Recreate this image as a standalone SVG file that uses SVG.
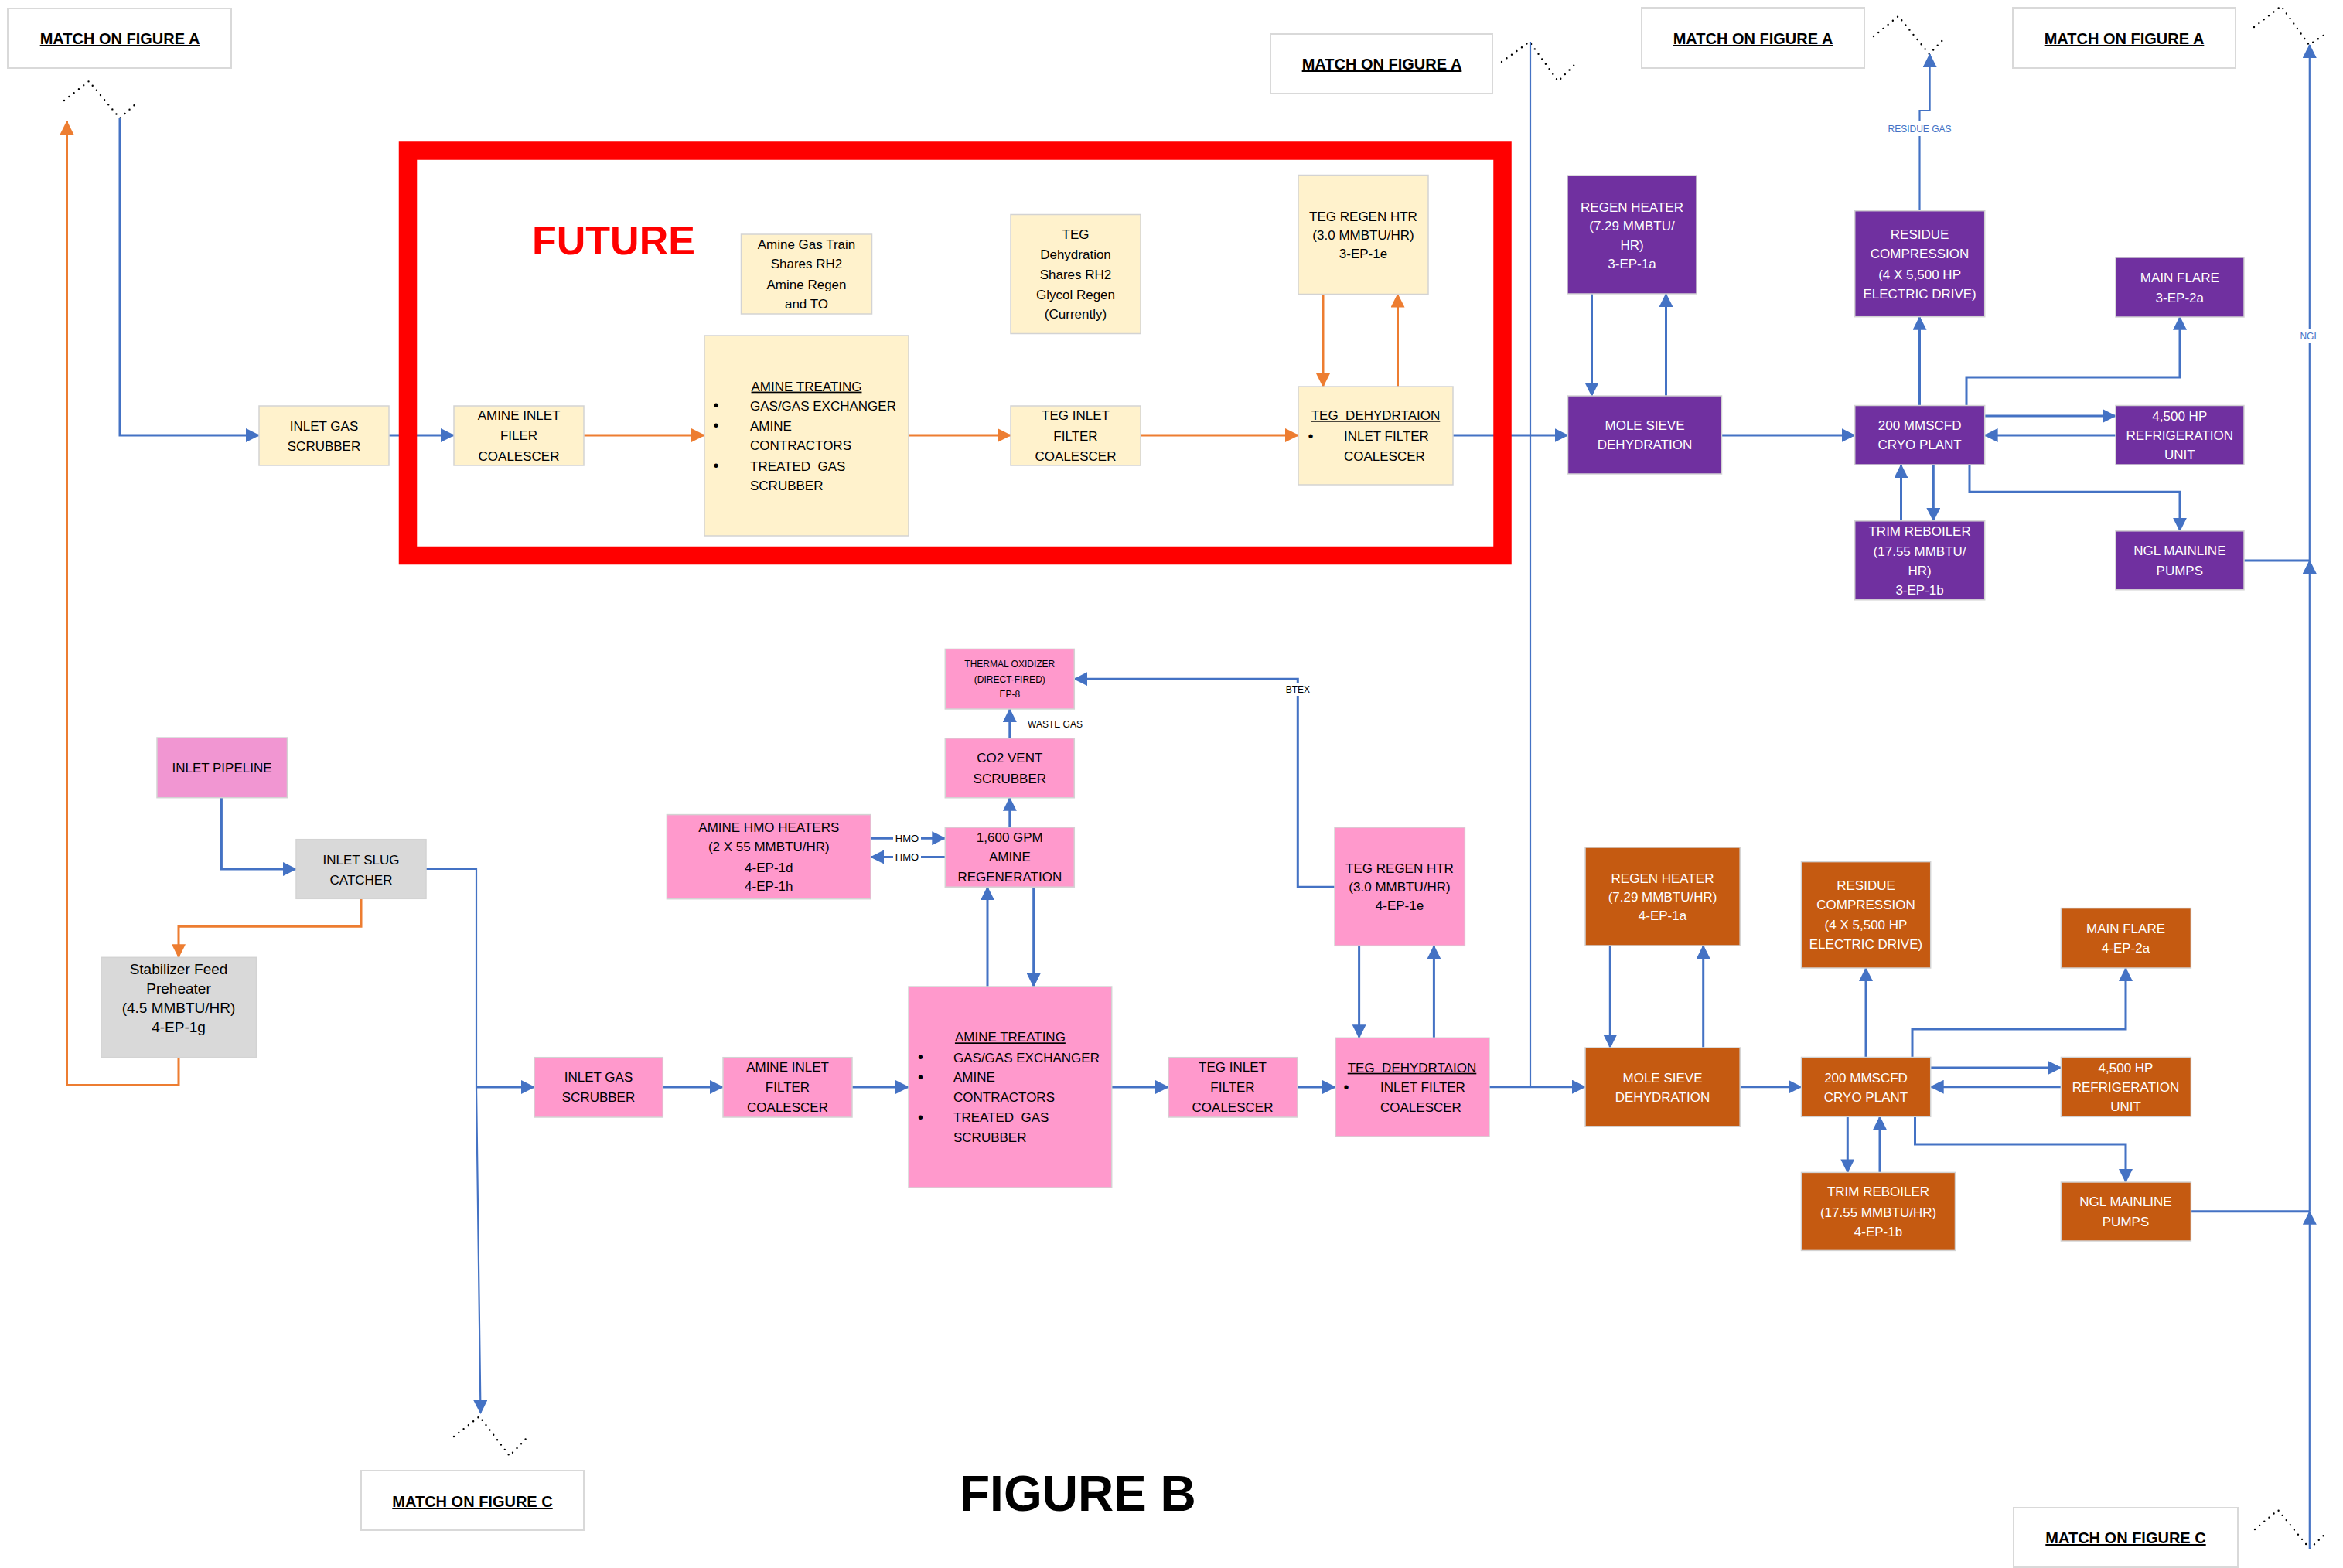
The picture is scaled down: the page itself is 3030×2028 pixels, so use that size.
<svg xmlns="http://www.w3.org/2000/svg" width="3030" height="2028" viewBox="0 0 3030 2028">
<style>
  .bx{stroke:#D3D3D3;stroke-width:1.5}
  .y{fill:#FFF2CC}
  .p{fill:#FF99CC}
  .pl{fill:#F196D2}
  .g{fill:#D9D9D9}
  .v{fill:#7030A0}
  .o{fill:#C55A11}
  .w{fill:#FFFFFF;stroke:#D9D9D9;stroke-width:2}
  text{font-family:"Liberation Sans",Arial,sans-serif;font-size:17px;fill:#000;text-anchor:middle}
  .wt{fill:#FFFFFF}
  .st{text-anchor:start}
  .u{text-decoration:underline}
  .pre{white-space:pre}
  .bul{font-size:20px}
  .sm{font-size:12px}
  .lb{font-size:13px}
  .bl{fill:#4472C4}
  .match{font-weight:bold;font-size:20px;text-decoration:underline}
  .c{fill:none;stroke:#4472C4;stroke-width:3}
  .ct{fill:none;stroke:#4472C4;stroke-width:2.2}
  .co{fill:none;stroke:#ED7D31;stroke-width:3}
  .dots{fill:none;stroke:#000;stroke-width:2.4;stroke-linecap:round;stroke-dasharray:0 8}
</style>
<defs>
  <marker id="ab" markerUnits="userSpaceOnUse" viewBox="0 0 18 18" markerWidth="18" markerHeight="18" refX="17" refY="9" orient="auto">
    <path d="M0,0 L18,9 L0,18 z" fill="#4472C4"/>
  </marker>
  <marker id="ao" markerUnits="userSpaceOnUse" viewBox="0 0 18 18" markerWidth="18" markerHeight="18" refX="17" refY="9" orient="auto">
    <path d="M0,0 L18,9 L0,18 z" fill="#ED7D31"/>
  </marker>
</defs>
<rect width="3030" height="2028" fill="#FFFFFF"/>

<!-- off-page match references -->
<g id="match-a-1"><rect class="w" x="10" y="11" width="289" height="77"/><text class="match" x="155" y="57">MATCH ON FIGURE A</text></g>
<g id="match-a-2"><rect class="w" x="1643" y="44" width="287" height="77"/><text class="match" x="1787" y="90">MATCH ON FIGURE A</text></g>
<g id="match-a-3"><rect class="w" x="2123" y="10" width="288" height="78"/><text class="match" x="2267" y="57">MATCH ON FIGURE A</text></g>
<g id="match-a-4"><rect class="w" x="2603" y="10" width="288" height="78"/><text class="match" x="2747" y="57">MATCH ON FIGURE A</text></g>
<g id="match-c-1"><rect class="w" x="467" y="1902" width="288" height="77"/><text class="match" x="611" y="1949">MATCH ON FIGURE C</text></g>
<g id="match-c-2"><rect class="w" x="2604" y="1950" width="290" height="77"/><text class="match" x="2749" y="1996">MATCH ON FIGURE C</text></g>

<!-- break marks -->
<g id="breaks">
  <path class="dots" d="M83,130 L115,105 L155,153 L177,133"/>
  <path class="dots" d="M1942,80 L1978,54 L2015,105 L2038,82"/>
  <path class="dots" d="M2423,47 L2455,21 L2495,70 L2516,48"/>
  <path class="dots" d="M2915,35 L2950,8 L2986,58 L3009,43"/>
  <path class="dots" d="M587,1858 L620,1832 L659,1883 L681,1860"/>
  <path class="dots" d="M2916,1978 L2946,1953 L2987,2003 L3010,1981"/>
</g>

<!-- connectors -->
<g id="connectors">
  <!-- upper train -->
  <path class="c" d="M155,153 V563 H335" marker-end="url(#ab)"/>
  <path class="co" d="M231,1368 V1403.5 H86.5 V157" marker-end="url(#ao)"/>
  <path class="c" d="M503,563 H587" marker-end="url(#ab)"/>
  <path class="co" d="M755,563 H911" marker-end="url(#ao)"/>
  <path class="co" d="M1175,563 H1307" marker-end="url(#ao)"/>
  <path class="co" d="M1475,563 H1679" marker-end="url(#ao)"/>
  <path class="co" d="M1711,380.5 V500" marker-end="url(#ao)"/>
  <path class="co" d="M1807.5,500 V380.5" marker-end="url(#ao)"/>
  <path class="c" d="M1879,563 H2027.5" marker-end="url(#ab)"/>
  <path class="ct" d="M1979,54 V1405.7"/>
  <path class="c" d="M2058.5,380 V512" marker-end="url(#ab)"/>
  <path class="c" d="M2154.5,512 V380" marker-end="url(#ab)"/>
  <path class="c" d="M2226.5,563 H2398.7" marker-end="url(#ab)"/>
  <path class="c" d="M2482.5,524.5 V409.7" marker-end="url(#ab)"/>
  <path class="ct" d="M2482.5,272.7 V143 H2495.6 V70" marker-end="url(#ab)"/>
  <path class="c" d="M2543,524.5 V488 H2819 V409.7" marker-end="url(#ab)"/>
  <path class="c" d="M2566.6,538 H2736" marker-end="url(#ab)"/>
  <path class="c" d="M2736,563 H2566.6" marker-end="url(#ab)"/>
  <path class="c" d="M2458.5,673.8 V601" marker-end="url(#ab)"/>
  <path class="c" d="M2500.3,601 V673.8" marker-end="url(#ab)"/>
  <path class="c" d="M2547,601 V636.3 H2819 V686.8" marker-end="url(#ab)"/>
  <path class="c" d="M2901.7,725 H2986.8"/>
  <path class="ct" d="M2986.8,2003 V1566.8" marker-end="url(#ab)"/>
  <path class="ct" d="M2986.8,1566.8 V725" marker-end="url(#ab)"/>
  <path class="ct" d="M2986.8,725 V58" marker-end="url(#ab)"/>
  <!-- lower train -->
  <path class="c" d="M286.4,1031.7 V1124 H383" marker-end="url(#ab)"/>
  <path class="co" d="M467,1162.3 V1198.3 H231 V1238.3" marker-end="url(#ao)"/>
  <path class="ct" d="M551,1124 H616 V1406 L621.5,1828" marker-end="url(#ab)"/>
  <path class="c" d="M616,1406 H691" marker-end="url(#ab)"/>
  <path class="c" d="M857.3,1406 H935" marker-end="url(#ab)"/>
  <path class="c" d="M1102,1406 H1175" marker-end="url(#ab)"/>
  <path class="c" d="M1437.7,1406 H1511" marker-end="url(#ab)"/>
  <path class="c" d="M1677.9,1406 H1727" marker-end="url(#ab)"/>
  <path class="c" d="M1926,1405.7 H2050" marker-end="url(#ab)"/>
  <path class="c" d="M1277,1276 V1147.2" marker-end="url(#ab)"/>
  <path class="c" d="M1336.7,1147.2 V1276" marker-end="url(#ab)"/>
  <path class="c" d="M1305.8,1070 V1031.8" marker-end="url(#ab)"/>
  <path class="c" d="M1305.8,954.8 V917" marker-end="url(#ab)"/>
  <path class="c" d="M1126.2,1084.2 H1222.3" marker-end="url(#ab)"/>
  <path class="c" d="M1222.3,1108.4 H1126.2" marker-end="url(#ab)"/>
  <path class="c" d="M1726,1147.2 H1678.3 V878.2 H1389.3" marker-end="url(#ab)"/>
  <path class="c" d="M1757.6,1223.3 V1342.3" marker-end="url(#ab)"/>
  <path class="c" d="M1854.4,1342.3 V1223.3" marker-end="url(#ab)"/>
  <path class="c" d="M2082.3,1223 V1355" marker-end="url(#ab)"/>
  <path class="c" d="M2202.7,1355 V1223" marker-end="url(#ab)"/>
  <path class="c" d="M2250.2,1405.7 H2329.5" marker-end="url(#ab)"/>
  <path class="c" d="M2413,1367.5 V1252" marker-end="url(#ab)"/>
  <path class="c" d="M2473,1367.5 V1331 H2749 V1252" marker-end="url(#ab)"/>
  <path class="c" d="M2496.7,1381 H2665.4" marker-end="url(#ab)"/>
  <path class="c" d="M2665.4,1405.7 H2496.7" marker-end="url(#ab)"/>
  <path class="c" d="M2389.3,1444.3 V1516.4" marker-end="url(#ab)"/>
  <path class="c" d="M2431,1516.4 V1444.3" marker-end="url(#ab)"/>
  <path class="c" d="M2476.5,1444.3 V1480 H2749 V1529" marker-end="url(#ab)"/>
  <path class="c" d="M2833.3,1566.8 H2986.8"/>
  <!-- stream labels -->
  <rect x="2438" y="157" width="88" height="19" fill="#FFFFFF"/>
  <text class="sm bl" x="2482.5" y="171">RESIDUE GAS</text>
  <rect x="2972" y="425" width="30" height="18" fill="#FFFFFF"/>
  <text class="sm bl" x="2986.8" y="438.5">NGL</text>
  <rect x="1155" y="1077" width="36" height="15" fill="#FFFFFF"/>
  <text class="lb" x="1173" y="1088.8">HMO</text>
  <rect x="1155" y="1101" width="36" height="15" fill="#FFFFFF"/>
  <text class="lb" x="1173" y="1113">HMO</text>
  <rect x="1659" y="884" width="39" height="16" fill="#FFFFFF"/>
  <text class="sm" x="1678.3" y="896">BTEX</text>
  <text class="sm st" x="1329" y="940.5">WASTE GAS</text>
</g>

<!-- future upper train (yellow) -->
<g id="inlet-gas-scrubber-a"><rect class="bx y" x="335" y="525" width="168" height="77"/><text x="419"><tspan x="419" y="556.5">INLET GAS</tspan><tspan x="419" y="582.5">SCRUBBER</tspan></text></g>
<g id="amine-inlet-filer-a"><rect class="bx y" x="587" y="525" width="168" height="77"/><text x="671"><tspan x="671" y="543">AMINE INLET</tspan><tspan x="671" y="569">FILER</tspan><tspan x="671" y="595.5">COALESCER</tspan></text></g>
<g id="amine-treating-a"><rect class="bx y" x="911" y="434" width="264" height="259"/>
  <text class="u" x="1043" y="505.6">AMINE TREATING</text>
  <text class="bul" x="926" y="531.3">•</text><text class="bul" x="926" y="557.4">•</text><text class="bul" x="926" y="609">•</text>
  <text class="st pre" x="970"><tspan x="970" y="530.6">GAS/GAS EXCHANGER</tspan><tspan x="970" y="556.7">AMINE</tspan><tspan x="970" y="582.4">CONTRACTORS</tspan><tspan x="970" y="608.5">TREATED  GAS</tspan><tspan x="970" y="634">SCRUBBER</tspan></text>
</g>
<g id="amine-gas-train-note"><rect class="bx y" x="958.5" y="303" width="169" height="103"/><text x="1043"><tspan x="1043" y="321.7">Amine Gas Train</tspan><tspan x="1043" y="347.4">Shares RH2</tspan><tspan x="1043" y="373.5">Amine Regen</tspan><tspan x="1043" y="399.2">and TO</tspan></text></g>
<g id="teg-dehydration-note"><rect class="bx y" x="1307" y="277.5" width="168" height="154"/><text x="1391"><tspan x="1391" y="309.2">TEG</tspan><tspan x="1391" y="335.3">Dehydration</tspan><tspan x="1391" y="361">Shares RH2</tspan><tspan x="1391" y="386.7">Glycol Regen</tspan><tspan x="1391" y="411.7">(Currently)</tspan></text></g>
<g id="teg-regen-htr-a"><rect class="bx y" x="1679" y="226.5" width="168" height="154"/><text x="1763"><tspan x="1763" y="286">TEG REGEN HTR</tspan><tspan x="1763" y="310">(3.0 MMBTU/HR)</tspan><tspan x="1763" y="334">3-EP-1e</tspan></text></g>
<g id="teg-inlet-filter-a"><rect class="bx y" x="1307" y="525" width="168" height="77"/><text x="1391"><tspan x="1391" y="543">TEG INLET</tspan><tspan x="1391" y="570">FILTER</tspan><tspan x="1391" y="595.6">COALESCER</tspan></text></g>
<g id="teg-dehydration-a"><rect class="bx y" x="1679" y="500" width="200" height="127"/>
  <text class="u pre" x="1779" y="543">TEG  DEHYDRTAION</text>
  <text class="bul" x="1695" y="570.5">•</text>
  <text class="st" x="1738"><tspan x="1738" y="570">INLET FILTER</tspan><tspan x="1738" y="595.6">COALESCER</tspan></text>
</g>

<!-- upper cryo train (purple) -->
<g id="regen-heater-a"><rect class="bx v" x="2027" y="227" width="167" height="153"/><text class="wt" x="2110.5"><tspan x="2110.5" y="273.7">REGEN HEATER</tspan><tspan x="2110.5" y="297.8">(7.29 MMBTU/</tspan><tspan x="2110.5" y="322.7">HR)</tspan><tspan x="2110.5" y="346.8">3-EP-1a</tspan></text></g>
<g id="mole-sieve-a"><rect class="bx v" x="2027.5" y="512" width="199" height="101"/><text class="wt" x="2127"><tspan x="2127" y="556.2">MOLE SIEVE</tspan><tspan x="2127" y="581">DEHYDRATION</tspan></text></g>
<g id="residue-compression-a"><rect class="bx v" x="2398.7" y="272.7" width="168" height="137"/><text class="wt" x="2482.6"><tspan x="2482.6" y="309.3">RESIDUE</tspan><tspan x="2482.6" y="334.2">COMPRESSION</tspan><tspan x="2482.6" y="361">(4 X 5,500 HP</tspan><tspan x="2482.6" y="386">ELECTRIC DRIVE)</tspan></text></g>
<g id="cryo-plant-a"><rect class="bx v" x="2398.7" y="524.5" width="168" height="76.5"/><text class="wt" x="2482.6"><tspan x="2482.6" y="556.2">200 MMSCFD</tspan><tspan x="2482.6" y="581">CRYO PLANT</tspan></text></g>
<g id="main-flare-a"><rect class="bx v" x="2736" y="333" width="166" height="77"/><text class="wt" x="2818.8"><tspan x="2818.8" y="364.8">MAIN FLARE</tspan><tspan x="2818.8" y="390.5">3-EP-2a</tspan></text></g>
<g id="refrigeration-a"><rect class="bx v" x="2736" y="524.5" width="166" height="76.5"/><text class="wt" x="2818.8"><tspan x="2818.8" y="543.5">4,500 HP</tspan><tspan x="2818.8" y="568.8">REFRIGERATION</tspan><tspan x="2818.8" y="594.4">UNIT</tspan></text></g>
<g id="trim-reboiler-a"><rect class="bx v" x="2398.7" y="673.8" width="168" height="102"/><text class="wt" x="2482.6"><tspan x="2482.6" y="692.8">TRIM REBOILER</tspan><tspan x="2482.6" y="718.8">(17.55 MMBTU/</tspan><tspan x="2482.6" y="743.7">HR)</tspan><tspan x="2482.6" y="768.6">3-EP-1b</tspan></text></g>
<g id="ngl-pumps-a"><rect class="bx v" x="2736" y="686.8" width="166" height="76"/><text class="wt" x="2818.8"><tspan x="2818.8" y="718">NGL MAINLINE</tspan><tspan x="2818.8" y="743.7">PUMPS</tspan></text></g>

<!-- inlet facilities -->
<g id="inlet-pipeline"><rect class="bx pl" x="203" y="954" width="168.5" height="77.7"/><text x="287" y="999">INLET PIPELINE</text></g>
<g id="inlet-slug-catcher"><rect class="bx g" x="383" y="1085.7" width="168" height="76.6"/><text x="467"><tspan x="467" y="1117.7">INLET SLUG</tspan><tspan x="467" y="1143.7">CATCHER</tspan></text></g>
<g id="stabilizer-feed-preheater"><rect class="bx g" x="131" y="1238.3" width="200.4" height="129.4"/><text x="231" style="font-size:19px"><tspan x="231" y="1259.7">Stabilizer Feed</tspan><tspan x="231" y="1284.7">Preheater</tspan><tspan x="231" y="1310">(4.5 MMBTU/HR)</tspan><tspan x="231" y="1335">4-EP-1g</tspan></text></g>

<!-- existing lower train (pink) -->
<g id="inlet-gas-scrubber-b"><rect class="bx p" x="691" y="1367.7" width="166.3" height="77.3"/><text x="774"><tspan x="774" y="1399.3">INLET GAS</tspan><tspan x="774" y="1425.3">SCRUBBER</tspan></text></g>
<g id="amine-inlet-filter-b"><rect class="bx p" x="935" y="1367.7" width="167" height="77.3"/><text x="1018.5"><tspan x="1018.5" y="1386">AMINE INLET</tspan><tspan x="1018.5" y="1412">FILTER</tspan><tspan x="1018.5" y="1438.3">COALESCER</tspan></text></g>
<g id="amine-treating-b"><rect class="bx p" x="1175" y="1276" width="262.7" height="260"/>
  <text class="u" x="1306.4" y="1347.3">AMINE TREATING</text>
  <text class="bul" x="1190.4" y="1374.2">•</text><text class="bul" x="1190.4" y="1399.8">•</text><text class="bul" x="1190.4" y="1451.8">•</text>
  <text class="st pre" x="1233"><tspan x="1233" y="1373.7">GAS/GAS EXCHANGER</tspan><tspan x="1233" y="1399.3">AMINE</tspan><tspan x="1233" y="1425.3">CONTRACTORS</tspan><tspan x="1233" y="1451.3">TREATED  GAS</tspan><tspan x="1233" y="1476.7">SCRUBBER</tspan></text>
</g>
<g id="teg-inlet-filter-b"><rect class="bx p" x="1511" y="1367.7" width="167" height="77.3"/><text x="1594"><tspan x="1594" y="1386">TEG INLET</tspan><tspan x="1594" y="1412">FILTER</tspan><tspan x="1594" y="1438">COALESCER</tspan></text></g>
<g id="teg-dehydration-b"><rect class="bx p" x="1727" y="1342.3" width="199" height="127.7"/>
  <text class="u pre" x="1826" y="1386.7">TEG  DEHYDRTAION</text>
  <text class="bul" x="1741" y="1412.5">•</text>
  <text class="st" x="1785"><tspan x="1785" y="1412">INLET FILTER</tspan><tspan x="1785" y="1438">COALESCER</tspan></text>
</g>
<g id="thermal-oxidizer"><rect class="bx p" x="1222.3" y="839.4" width="167" height="77.6"/><text class="sm" x="1305.8"><tspan x="1305.8" y="863.1">THERMAL OXIDIZER</tspan><tspan x="1305.8" y="882.5">(DIRECT-FIRED)</tspan><tspan x="1305.8" y="901.9">EP-8</tspan></text></g>
<g id="co2-vent-scrubber"><rect class="bx p" x="1222.3" y="954.8" width="167" height="77"/><text x="1305.8"><tspan x="1305.8" y="986">CO2 VENT</tspan><tspan x="1305.8" y="1012.6">SCRUBBER</tspan></text></g>
<g id="amine-regeneration"><rect class="bx p" x="1222.3" y="1070" width="167" height="77.2"/><text x="1305.8"><tspan x="1305.8" y="1088.7">1,600 GPM</tspan><tspan x="1305.8" y="1114.4">AMINE</tspan><tspan x="1305.8" y="1139.6">REGENERATION</tspan></text></g>
<g id="amine-hmo-heaters"><rect class="bx p" x="862.4" y="1053.6" width="263.8" height="109.1"/><text x="994.3"><tspan x="994.3" y="1075.6">AMINE HMO HEATERS</tspan><tspan x="994.3" y="1101.3">(2 X 55 MMBTU/HR)</tspan><tspan x="994.3" y="1127.5">4-EP-1d</tspan><tspan x="994.3" y="1152.2">4-EP-1h</tspan></text></g>
<g id="teg-regen-htr-b"><rect class="bx p" x="1726" y="1070" width="168.4" height="153.3"/><text x="1810"><tspan x="1810" y="1129">TEG REGEN HTR</tspan><tspan x="1810" y="1153">(3.0 MMBTU/HR)</tspan><tspan x="1810" y="1176.5">4-EP-1e</tspan></text></g>

<!-- lower cryo train (orange) -->
<g id="regen-heater-b"><rect class="bx o" x="2050" y="1096" width="200.2" height="127"/><text class="wt" x="2150"><tspan x="2150" y="1142">REGEN HEATER</tspan><tspan x="2150" y="1166.4">(7.29 MMBTU/HR)</tspan><tspan x="2150" y="1190.3">4-EP-1a</tspan></text></g>
<g id="mole-sieve-b"><rect class="bx o" x="2050" y="1355" width="200.2" height="101.8"/><text class="wt" x="2150"><tspan x="2150" y="1399.6">MOLE SIEVE</tspan><tspan x="2150" y="1425.3">DEHYDRATION</tspan></text></g>
<g id="residue-compression-b"><rect class="bx o" x="2329.5" y="1114.6" width="167.2" height="137.4"/><text class="wt" x="2413"><tspan x="2413" y="1151.4">RESIDUE</tspan><tspan x="2413" y="1176.4">COMPRESSION</tspan><tspan x="2413" y="1202">(4 X 5,500 HP</tspan><tspan x="2413" y="1227">ELECTRIC DRIVE)</tspan></text></g>
<g id="cryo-plant-b"><rect class="bx o" x="2329.5" y="1367.5" width="167.2" height="76.8"/><text class="wt" x="2413"><tspan x="2413" y="1399.6">200 MMSCFD</tspan><tspan x="2413" y="1424.6">CRYO PLANT</tspan></text></g>
<g id="main-flare-b"><rect class="bx o" x="2665.4" y="1174.6" width="168" height="77.4"/><text class="wt" x="2749"><tspan x="2749" y="1206.7">MAIN FLARE</tspan><tspan x="2749" y="1232.4">4-EP-2a</tspan></text></g>
<g id="refrigeration-b"><rect class="bx o" x="2665.4" y="1367.5" width="168" height="76.8"/><text class="wt" x="2749"><tspan x="2749" y="1387">4,500 HP</tspan><tspan x="2749" y="1411.7">REFRIGERATION</tspan><tspan x="2749" y="1437">UNIT</tspan></text></g>
<g id="trim-reboiler-b"><rect class="bx o" x="2329.5" y="1516.4" width="199" height="101"/><text class="wt" x="2429"><tspan x="2429" y="1547.4">TRIM REBOILER</tspan><tspan x="2429" y="1573.5">(17.55 MMBTU/HR)</tspan><tspan x="2429" y="1598.5">4-EP-1b</tspan></text></g>
<g id="ngl-pumps-b"><rect class="bx o" x="2665.4" y="1529" width="168" height="76"/><text class="wt" x="2749"><tspan x="2749" y="1560.3">NGL MAINLINE</tspan><tspan x="2749" y="1586">PUMPS</tspan></text></g>

<!-- future-scope boundary -->
<g id="future-boundary">
  <rect x="527.5" y="195" width="1415.5" height="523.5" fill="none" stroke="#FF0000" stroke-width="23.5"/>
  <text class="st" x="688" y="329" style="font-size:52px;font-weight:bold;fill:#FF0000">FUTURE</text>
</g>

<text class="st" x="1241" y="1954" style="font-size:64px;font-weight:bold">FIGURE B</text>
</svg>
